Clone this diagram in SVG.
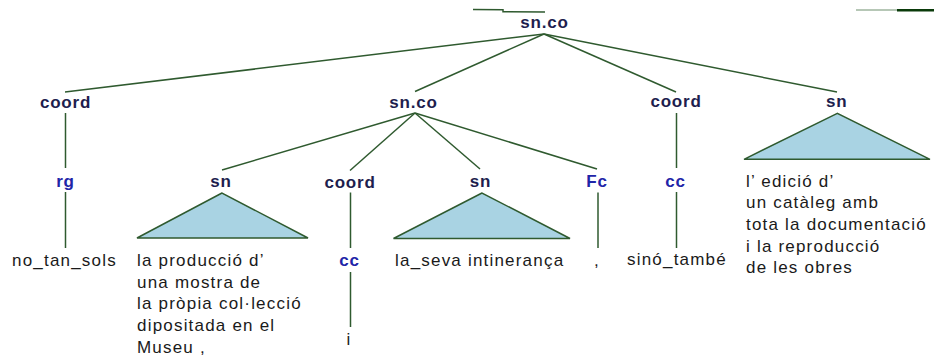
<svg xmlns="http://www.w3.org/2000/svg" width="935" height="360" viewBox="0 0 935 360">
<style>
.cat{font-family:"Liberation Sans",Arial,sans-serif;font-weight:bold;font-size:17px;fill:#1e1e4e;text-anchor:middle;letter-spacing:0.8px}
.pos{font-family:"Liberation Sans",Arial,sans-serif;font-weight:bold;font-size:17px;fill:#1f25a8;text-anchor:middle;letter-spacing:0.8px}
.leaf{font-family:"Liberation Sans",Arial,sans-serif;font-size:17px;fill:#1a1a1a;letter-spacing:1.2px}
.e{stroke:#2f5a2f;stroke-width:1.5;fill:none}
.tri{fill:#a9d3e3;stroke:#2f5a2f;stroke-width:1.5}
</style>
<rect width="935" height="360" fill="#ffffff"/>
<g id="decor">
<polyline class="e" points="473,9.5 503,9.8 503,11.7 545,12" stroke-width="1.3"/>
<line x1="856" y1="10" x2="897" y2="10" stroke="#6f8f6f" stroke-width="1.2"/>
<line x1="897" y1="10.3" x2="934" y2="10.3" stroke="#0a3a0a" stroke-width="2.6"/>
</g>
<g id="connectors">
<line class="e" x1="544" y1="34" x2="65" y2="92"/>
<line class="e" x1="544" y1="34" x2="415" y2="91.5"/>
<line class="e" x1="544" y1="34" x2="676" y2="92"/>
<line class="e" x1="544" y1="34" x2="837" y2="92"/>
<line class="e" x1="65.5" y1="113" x2="65.5" y2="168"/>
<line class="e" x1="65.5" y1="192" x2="65.5" y2="248"/>
<line class="e" x1="415" y1="113" x2="222" y2="170"/>
<line class="e" x1="415" y1="113" x2="350" y2="170.5"/>
<line class="e" x1="415" y1="113" x2="480" y2="169"/>
<line class="e" x1="415" y1="113" x2="597" y2="169"/>
<line class="e" x1="350.5" y1="192.5" x2="350.5" y2="248"/>
<line class="e" x1="350.5" y1="272" x2="350.5" y2="327"/>
<line class="e" x1="598" y1="192.5" x2="598" y2="248"/>
<line class="e" x1="676.5" y1="113" x2="676.5" y2="168"/>
<line class="e" x1="676.5" y1="192" x2="676.5" y2="248"/>
</g>
<g id="n-root"><text class="cat" x="544.5" y="27.5">sn.co</text></g>
<g id="n-coord1"><text class="cat" x="65.5" y="107.5">coord</text></g>
<g id="n-rg"><text class="pos" x="65.5" y="187">rg</text></g>
<g id="n-leaf-notansols"><text class="leaf" x="12" y="266">no_tan_sols</text></g>
<g id="n-snco2"><text class="cat" x="413.5" y="107.5">sn.co</text></g>
<g id="n-sn1">
<text class="cat" x="221" y="187">sn</text>
<polygon class="tri" points="222,193 137,238 308,238"/>
<text class="leaf" x="137" y="266">la producció d’</text>
<text class="leaf" x="137" y="287.7">una mostra de</text>
<text class="leaf" x="137" y="309.4">la pròpia col·lecció</text>
<text class="leaf" x="137" y="331">dipositada en el</text>
<text class="leaf" x="137" y="352.7">Museu ,</text>
</g>
<g id="n-coord2"><text class="cat" x="350" y="187.5">coord</text></g>
<g id="n-cc1"><text class="pos" x="349.5" y="266">cc</text></g>
<g id="n-leaf-i"><text class="leaf" x="346.5" y="345">i</text></g>
<g id="n-sn2">
<text class="cat" x="480.5" y="187">sn</text>
<polygon class="tri" points="482,193 393.5,238.5 570,238.5"/>
<text class="leaf" x="395" y="266">la_seva intinerança</text>
</g>
<g id="n-fc"><text class="pos" x="597" y="187">Fc</text></g>
<g id="n-leaf-comma"><text class="leaf" x="594" y="266">,</text></g>
<g id="n-coord3"><text class="cat" x="676" y="107">coord</text></g>
<g id="n-cc2"><text class="pos" x="675.5" y="187">cc</text></g>
<g id="n-leaf-sinotambe"><text class="leaf" x="627" y="265">sinó_també</text></g>
<g id="n-sn3">
<text class="cat" x="836.7" y="107">sn</text>
<polygon class="tri" points="837.3,113.3 744,159.3 930,159.3"/>
<text class="leaf" x="746" y="186.7">l’ edició d’</text>
<text class="leaf" x="746" y="208.4">un catàleg amb</text>
<text class="leaf" x="746" y="230">tota la documentació</text>
<text class="leaf" x="746" y="251.7">i la reproducció</text>
<text class="leaf" x="746" y="273.3">de les obres</text>
</g>
</svg>
